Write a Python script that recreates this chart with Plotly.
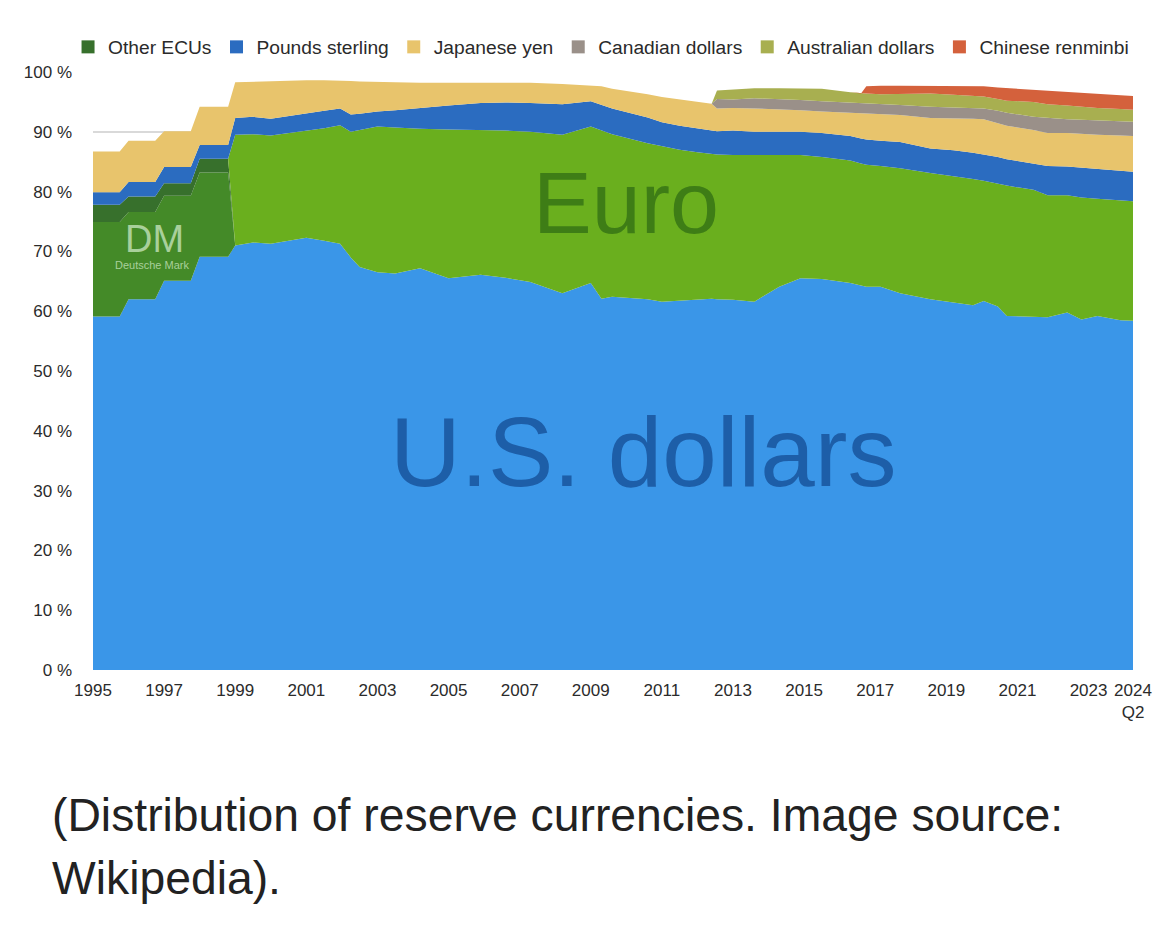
import plotly.graph_objects as go

# decimal-year positions of the data points (2024.25 = 2024 Q2)
years = [1995.0, 1995.75, 1996.0, 1996.75, 1997.0, 1997.75, 1998.0, 1998.8,
         1999.0, 1999.5, 2000.0, 2000.5, 2001.0, 2001.5, 2001.95, 2002.25, 2002.5,
         2003.0, 2003.5, 2004.2, 2005.0, 2005.9, 2006.6, 2007.3, 2008.2, 2009.0,
         2009.3, 2009.6, 2010.6, 2011.0, 2011.5, 2012.0, 2012.4, 2012.55, 2013.0,
         2013.6, 2014.3, 2014.9, 2015.5, 2016.3, 2016.6, 2016.75, 2017.15, 2017.7,
         2018.55, 2019.2, 2019.75, 2020.05, 2020.45, 2020.7, 2021.45, 2021.85,
         2022.4, 2022.8, 2023.25, 2023.9, 2024.25]

usd = [59.1, 59.1, 62.0, 62.0, 65.1, 65.1, 69.1, 69.1,
       71.0, 71.5, 71.3, 71.8, 72.3, 71.8, 71.3, 69.0, 67.4, 66.5, 66.3, 67.2,
       65.5, 66.1, 65.6, 64.9, 63.0, 64.7, 62.1, 62.4, 62.0, 61.6, 61.8, 62.0,
       62.1, 62.0, 61.9, 61.6, 64.1, 65.5, 65.4, 64.7, 64.3, 64.1, 64.1, 63.0,
       62.0, 61.5, 61.0, 61.7, 60.8, 59.2, 59.1, 59.0, 59.8, 58.6, 59.2, 58.5, 58.4]

deutsche_mark = [15.8, 15.8, 14.6, 14.6, 14.2, 14.2, 14.1, 14.1] + [0] * 49
other_ecus = [2.9, 2.9, 2.6, 2.6, 2.1, 2.1, 2.3, 2.3] + [0] * 49

euro = [0] * 8 + [18.5, 18.1, 18.1, 18.0, 17.9, 18.8, 19.8, 21.0, 22.9, 24.4,
                  24.4, 23.3, 24.9, 24.2, 24.6, 25.1, 26.5, 26.2, 28.2, 27.2,
                  26.1, 26.0, 25.2, 24.6, 24.2, 24.2, 24.2, 24.5, 22.1, 20.6,
                  20.4, 20.5, 20.4, 20.4, 20.2, 20.9, 21.1, 21.1, 21.1, 20.1,
                  20.5, 21.8, 21.2, 20.4, 19.6, 20.4, 19.6, 20.0, 20.0]

gbp = [2.1, 2.1, 2.4, 2.4, 2.7, 2.7, 2.3, 2.3,
       2.8, 2.9, 2.8, 2.8, 2.8, 2.9, 2.8, 2.9, 2.7, 2.5, 2.9, 3.5, 4.0, 4.5,
       4.7, 4.8, 5.1, 4.2, 4.2, 4.3, 4.3, 4.0, 4.0, 4.0, 4.0, 3.9, 4.1, 3.9,
       3.8, 3.9, 4.0, 4.1, 4.2, 4.2, 4.2, 4.4, 4.1, 4.3, 4.4, 4.4, 4.5, 4.4,
       4.4, 4.9, 4.8, 5.0, 5.0, 5.0, 4.9]

jpy = [6.8, 6.8, 6.9, 6.9, 6.0, 6.0, 6.4, 6.4,
       6.0, 5.9, 6.3, 6.0, 5.6, 5.1, 4.7, 5.6, 5.4, 4.9, 4.7, 4.2, 3.8, 3.5,
       3.4, 3.4, 3.4, 2.7, 3.1, 3.3, 3.9, 4.2, 4.4, 4.3, 4.4, 3.8, 3.8, 3.9,
       3.8, 3.6, 3.6, 3.9, 4.2, 4.3, 4.4, 4.5, 5.1, 5.4, 5.7, 5.9, 5.7, 5.6,
       5.6, 5.5, 5.6, 5.6, 5.7, 5.9, 6.0]

cad = [0] * 33 + [1.6, 1.4, 1.7, 1.7, 1.7, 1.7, 1.7, 1.7, 1.7, 1.7, 1.7, 1.9,
                  1.8, 1.8, 1.8, 2.0, 2.2, 2.2, 2.5, 2.3, 2.4, 2.4, 2.4, 2.4]

aud = [0] * 33 + [1.4, 1.7, 1.7, 1.8, 2.0, 2.1, 1.7, 1.6, 1.7, 1.7, 1.8, 2.2,
                  2.1, 2.0, 2.0, 2.0, 2.0, 2.5, 2.3, 2.3, 2.2, 2.1, 2.0, 2.0]

cny = [0] * 41 + [1.2, 1.4, 1.4, 1.3, 1.5, 1.7, 1.7, 1.9, 2.1, 2.0, 2.2, 2.2,
                  2.3, 2.3, 2.3, 2.3]

x_tick_vals = [1995, 1997, 1999, 2001, 2003, 2005, 2007, 2009, 2011, 2013,
               2015, 2017, 2019, 2021, 2023, 2024.25]
x_tick_text = ["1995", "1997", "1999", "2001", "2003", "2005", "2007", "2009",
               "2011", "2013", "2015", "2017", "2019", "2021", "2023", "2024<br>Q2"]
y_tick_vals = [0, 10, 20, 30, 40, 50, 60, 70, 80, 90, 100]
y_tick_text = ["0 %", "10 %", "20 %", "30 %", "40 %", "50 %", "60 %", "70 %",
               "80 %", "90 %", "100 %"]

series = [
    ("U.S. dollars", usd, "#3a96e8", False),
    ("Deutsche Mark", deutsche_mark, "#448a28", False),
    ("Other ECUs", other_ecus, "#37702c", True),
    ("Euro", euro, "#6aaf1e", False),
    ("Pounds sterling", gbp, "#2b6cc0", True),
    ("Japanese yen", jpy, "#e8c46c", True),
    ("Canadian dollars", cad, "#9a9089", True),
    ("Australian dollars", aud, "#a8af50", True),
    ("Chinese renminbi", cny, "#d4613c", True),
]

fig = go.Figure()
for name, vals, color, _ in series:
    fig.add_trace(go.Scatter(
        x=years, y=vals, name=name, mode="lines", stackgroup="one",
        line=dict(width=0, color=color), fillcolor=color, showlegend=False,
        hoverinfo="x+y+name"))

# legend entries with square swatches
for name, vals, color, inleg in series:
    if inleg:
        fig.add_trace(go.Scatter(
            x=[None], y=[None], mode="markers", name=name,
            marker=dict(symbol="square", size=13, color=color),
            showlegend=True))

font_main = "Liberation Sans, Arial, sans-serif"

fig.update_layout(
    width=1170, height=928,
    margin=dict(l=93, r=37, t=72, b=258),
    paper_bgcolor="white", plot_bgcolor="white",
    font=dict(family=font_main, color="#333333"),
    showlegend=True,
    legend=dict(orientation="h", x=-0.024, xanchor="left", y=1.042, yanchor="middle",
                font=dict(size=19.2, color="#2a2a2a"), bgcolor="rgba(0,0,0,0)",
                traceorder="normal"),
    xaxis=dict(range=[1995, 2024.25], tickvals=x_tick_vals, ticktext=x_tick_text,
               showgrid=False, zeroline=False, showline=False,
               tickfont=dict(size=17, color="#2b2b2b"), ticklabelstandoff=8),
    yaxis=dict(range=[0, 100], tickvals=y_tick_vals, ticktext=y_tick_text,
               showgrid=True, gridcolor="#d9d9d9", gridwidth=2, zeroline=False,
               showline=False, tickfont=dict(size=17, color="#2b2b2b"),
               ticklabelstandoff=20),
)

annotations = [
    dict(x=2010.0, y=78.1, text="Euro", font=dict(size=88, color="#3e7d16")),
    dict(x=2010.47, y=36.5, text="U.S. dollars", font=dict(size=98, color="#1d5ea8")),
    dict(x=1996.74, y=72.1, text="DM", font=dict(size=38, color="#a9d09b")),
    dict(x=1996.66, y=67.8, text="Deutsche Mark", font=dict(size=11, color="#a9d09b")),
]
for a in annotations:
    fig.add_annotation(x=a["x"], y=a["y"], xref="x", yref="y", text=a["text"],
                       showarrow=False, xanchor="center", yanchor="middle",
                       font=dict(family=font_main, **a["font"]))

caption_lines = ["(Distribution of reserve currencies. Image source:", "Wikipedia)."]
for i, line in enumerate(caption_lines):
    fig.add_annotation(x=(50 - 93) / 1040, y=(670 - (815 + 63 * i)) / 598,
                       xref="paper", yref="paper", text=line, showarrow=False,
                       xanchor="left", yanchor="middle",
                       font=dict(family=font_main, size=46.3, color="#222222"))

fig.write_html("out.html")
